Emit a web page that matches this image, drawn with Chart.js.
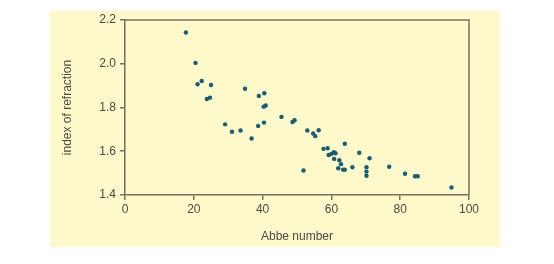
<!DOCTYPE html>
<html>
<head>
<meta charset="utf-8">
<script src="https://cdn.jsdelivr.net/npm/chart.js@4"></script>
<style>
  html, body { margin: 0; padding: 0; background: #fff; }
  #panel { position: absolute; left: 50px; top: 11px; width: 450px; height: 236px; background: #fef9cb; }
  #wrap { position: absolute; left: 0; top: 0; width: 554px; height: 264px; }
</style>
</head>
<body>
<div id="panel"></div>
<div id="wrap"><canvas id="glass" width="554" height="264"></canvas></div>
<script>
// glasses: Abbe number vs index of refraction
const abbeNumber = [17.7, 20.5, 21.1, 22.3, 25.0, 23.8, 24.7, 34.9, 38.9, 40.5, 40.3, 40.9,
    29.1, 31.1, 33.6, 36.8, 38.7, 40.4, 45.5, 48.7, 49.3,
    53.0, 54.7, 55.3, 56.3, 51.9, 57.7, 58.9, 60.7, 61.2, 59.2, 60.0, 60.8, 62.3, 63.9,
    62.8, 62.0, 63.4, 63.9, 66.1, 68.1, 71.1, 70.2, 70.2, 70.2, 76.8, 81.4, 84.3, 85.1, 94.9];
const refrIndex = [2.143, 2.004, 1.906, 1.921, 1.903, 1.839, 1.845, 1.886, 1.853, 1.865, 1.804, 1.809,
    1.723, 1.689, 1.695, 1.658, 1.716, 1.731, 1.757, 1.734, 1.742,
    1.695, 1.681, 1.669, 1.696, 1.512, 1.611, 1.614, 1.596, 1.591, 1.583, 1.588, 1.565, 1.559, 1.634,
    1.541, 1.522, 1.516, 1.516, 1.527, 1.593, 1.568, 1.527, 1.507, 1.488, 1.529, 1.497, 1.486, 1.486, 1.434];
const xTicks = [0, 20, 40, 60, 80, 100];
const yTicks = [1.4, 1.6, 1.8, 2.0, 2.2];

const axisCol = '#77715c';
const txtCol = '#4a4a42';
const fnt = { family: 'Liberation Sans, Arial, sans-serif', size: 12 };

const boxPlugin = {
    id: 'box',
    afterDatasetsDraw(chart) {
        const a = chart.chartArea, c = chart.ctx;
        c.save();
        c.strokeStyle = axisCol;
        c.lineWidth = 1.5;
        c.beginPath();
        c.moveTo(a.left, a.top);
        c.lineTo(a.right, a.top);
        c.lineTo(a.right, a.bottom);
        c.stroke();
        c.restore();
    }
};

let ctx = document.getElementById('glass').getContext('2d');
var glassChart = new Chart(ctx, {
    type: 'scatter',
    data: {
        datasets: [{
            data: abbeNumber.map((v, i) => ({ x: v, y: refrIndex[i] })),
            backgroundColor: '#1b5b73',
            borderWidth: 0,
            pointRadius: 2.2
        }]
    },
    options: {
        responsive: false,
        animation: false,
        layout: { padding: { left: 60, right: 85, top: 20, bottom: 20 } },
        plugins: { legend: { display: false }, tooltip: { enabled: false } },
        scales: {
            x: {
                min: 0, max: 100,
                afterBuildTicks: s => { s.ticks = xTicks.map(v => ({ value: v })); },
                afterFit: s => { s.height = 49; },
                grid: { drawOnChartArea: false, color: axisCol, tickLength: 5, lineWidth: 1.5 },
                border: { color: axisCol, width: 1.5 },
                ticks: { color: txtCol, font: fnt, padding: 2, maxRotation: 0 },
                title: { display: true, text: 'Abbe number', color: txtCol, font: fnt, padding: 0 }
            },
            y: {
                min: 1.4, max: 2.2,
                afterBuildTicks: s => { s.ticks = yTicks.map(v => ({ value: v })); },
                afterFit: s => { s.width = 65; },
                grid: { drawOnChartArea: false, color: axisCol, tickLength: 5, lineWidth: 1.5 },
                border: { color: axisCol, width: 1.5 },
                ticks: { color: txtCol, font: fnt, padding: 4, callback: v => v.toFixed(1) },
                title: { display: true, text: 'index of refraction', color: txtCol, font: fnt, padding: 0 }
            }
        }
    },
    plugins: [boxPlugin]
});
</script>
</body>
</html>
